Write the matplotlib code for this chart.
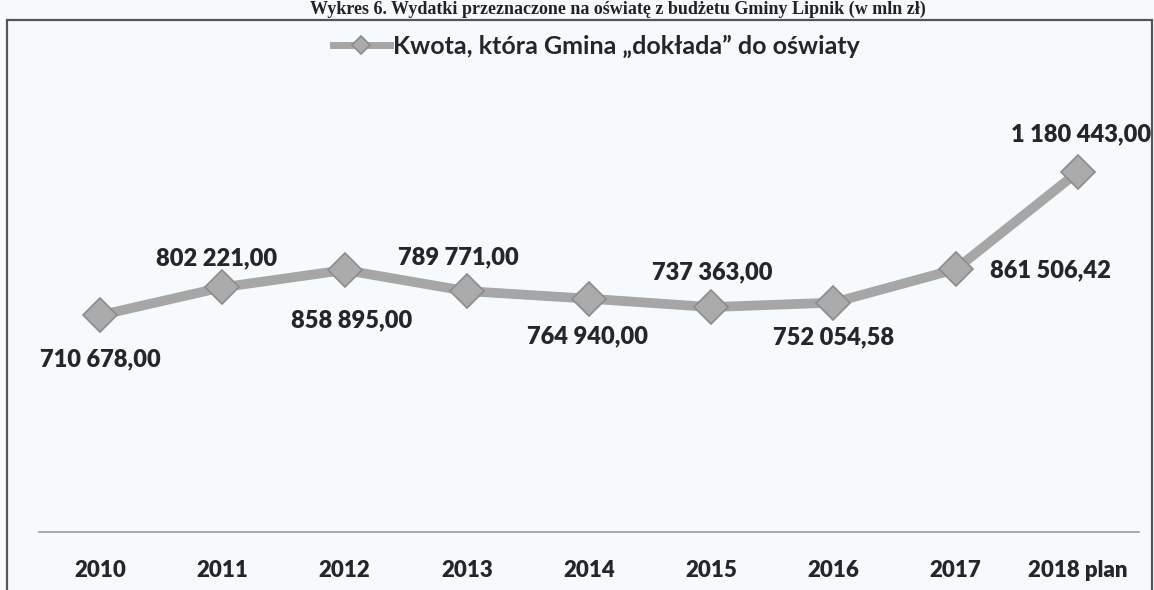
import matplotlib
matplotlib.use("Agg")
import matplotlib.pyplot as plt
from matplotlib.patches import Rectangle

# data
years = ["2010", "2011", "2012", "2013", "2014", "2015", "2016", "2017", "2018 plan"]
amounts = [710678.00, 802221.00, 858895.00, 789771.00, 764940.00,
           737363.00, 752054.58, 861506.42, 1180443.00]
series_name = "Kwota, która Gmina \u201edokłada\u201d do oświaty"
title = "Wykres 6. Wydatki przeznaczone na oświatę z budżetu Gminy Lipnik (w mln zł)"

# label placement (offset in points from each marker)
label_offsets = [(0, -32), (-4, 21), (5, -36), (-6, 24), (-1, -27),
                 (1, 25), (0, -25), (68, -1), (2, 27)]


def fmt(v):
    s = f"{v:,.2f}"
    return s.replace(",", " ").replace(".", ",")


fig = plt.figure(figsize=(11.54, 5.9), dpi=100)
fig.patch.set_facecolor("#f7fafc")

# frame around the chart (bottom is cut off in the scan)
top_px = 20
fig.patches.append(Rectangle((7 / 1154, -0.05), 1145 / 1154, 1.0 - top_px / 590 + 0.05,
                             transform=fig.transFigure, fill=False,
                             edgecolor="#555555", linewidth=1.6))

fig.text(0.535, 1.0 - 1 / 590, title, ha="center", va="top",
         fontsize=13, fontweight="bold", family="Liberation Serif", color="#222222")

ax = fig.add_axes([39 / 1154, 58 / 590, 1100 / 1154, 427 / 590])
ax.set_facecolor("none")
x = list(range(len(years)))
ax.plot(x, amounts, color="#a6a6a6", linewidth=7, marker="D", markersize=17,
        markerfacecolor="#ababab", markeredgecolor="#8c8c8c", markeredgewidth=1.2,
        label=series_name, solid_joinstyle="miter")

for i, v in enumerate(amounts):
    dx, dy = label_offsets[i]
    ax.annotate(fmt(v), (x[i], v), xytext=(dx, dy), textcoords="offset points",
                ha="center", va="center", fontsize=17, fontweight="heavy",
                family="Lato", color="#262626")

ax.set_ylim(0, 1400000)
ax.set_xlim(-0.5, len(years) - 0.5)
ax.set_yticks([])
ax.set_xticks(x)
ax.set_xticklabels(years, fontsize=16, fontweight="heavy", family="Lato", color="#262626")
ax.tick_params(axis="x", length=0, pad=20)
for s in ["top", "right", "left"]:
    ax.spines[s].set_visible(False)
ax.spines["bottom"].set_color("#9a9a9a")
ax.spines["bottom"].set_linewidth(1.2)

leg = fig.legend(loc="center", bbox_to_anchor=(596 / 1154, 1.0 - 46 / 590), frameon=False,
                 prop={"family": "Lato", "size": 18, "weight": "bold"}, handlelength=2.3,
                 markerscale=0.55, handletextpad=0.1)
for t in leg.get_texts():
    t.set_color("#262626")
leg.get_lines()[0].set_linewidth(5)

fig.savefig("out.png", dpi=100, facecolor=fig.get_facecolor())
